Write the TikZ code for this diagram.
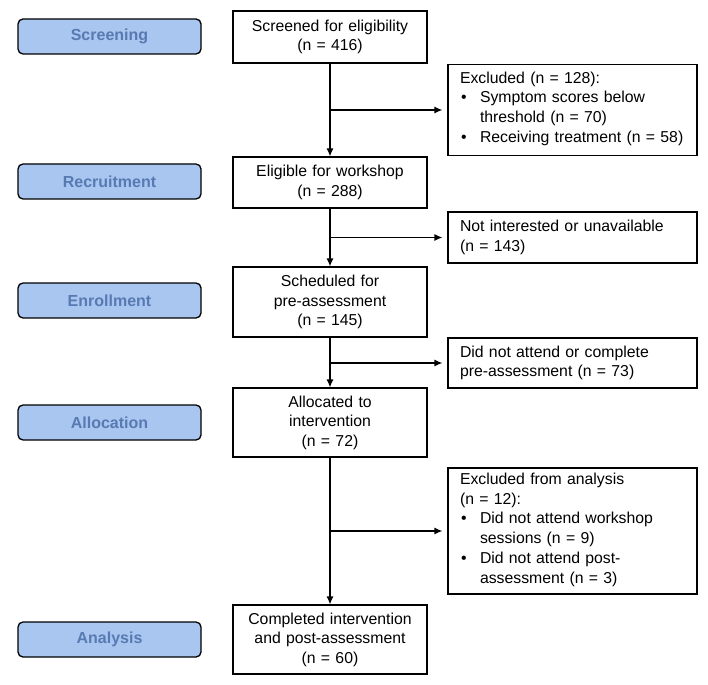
\documentclass[tikz,border=0pt]{standalone}
\usepackage{fontspec}
\setmainfont{Liberation Sans}
\usetikzlibrary{arrows.meta}
\definecolor{stagefill}{RGB}{169,198,240}
\definecolor{stagetext}{RGB}{88,122,178}
\newcommand{\bul}[1]{\makebox[20pt][l]{\hspace{1pt}\textbullet}\begin{tabular}[t]{@{}l@{}}#1\end{tabular}}
\tikzset{
  stage/.style={draw, line width=1.3pt, rounded corners=5pt, fill=stagefill,
    minimum width=183, minimum height=35, text=stagetext,
    font=\fontsize{16}{19}\selectfont\bfseries},
  mainbox/.style={draw, line width=1.2pt, minimum width=194, text width=185,
    align=center, font=\fontsize{15.8}{19.5}\selectfont},
  sidebox/.style={draw, line width=1.2pt, minimum width=249, inner xsep=12pt,
    text width=225, align=left, font=\fontsize{15.8}{19.5}\selectfont},
  flow/.style={line width=1.2pt, -{Latex[length=8pt,width=7pt]}},
}
\begin{document}
\begin{tikzpicture}[x=1pt,y=-1pt]
   \useasboundingbox (0,0) rectangle (708,684);
   % stages
   \node[stage] (sscreen) at (109.5,36.5) {Screening};
   \node[stage] (srecruit) at (109.5,181.5) {Recruitment};
   \node[stage] (senroll) at (109.5,300.5) {Enrollment};
   \node[stage] (salloc) at (109.5,422.5) {Allocation};
   \node[stage] (sanalysis) at (109.5,639.5) {Analysis};
   % main flow
   \node[mainbox, minimum height=52] (screened) at (330,37) {Screened for eligibility\\(n = 416)};
   \node[mainbox, minimum height=51] (eligible) at (330,182.5) {Eligible for workshop\\(n = 288)};
   \node[mainbox, minimum height=70] (scheduled) at (330,302) {Scheduled for\\pre-assessment\\(n = 145)};
   \node[mainbox, minimum height=69] (allocated) at (330,422.5) {Allocated to\\intervention\\(n = 72)};
   \node[mainbox, minimum height=69] (completed) at (330,639.5) {Completed intervention\\and post-assessment\\(n = 60)};
   % exclusions
   \node[sidebox, minimum height=91] (excl) at (572.5,110) {Excluded (n = 128):\\
     \bul{Symptom scores below\\threshold (n = 70)}\\
     \bul{Receiving treatment (n = 58)}};
   \node[sidebox, minimum height=51] (notint) at (572.5,237.5) {Not interested or unavailable\\(n = 143)};
   \node[sidebox, minimum height=50] (noattend) at (572.5,363) {Did not attend or complete\\pre-assessment (n = 73)};
   \node[sidebox, minimum height=126] (exclan) at (572.5,531) {Excluded from analysis\\(n = 12):\\
     \bul{Did not attend workshop\\sessions (n = 9)}\\
     \bul{Did not attend post-\\assessment (n = 3)}};
   % arrows
   \draw[flow] (screened) -- (eligible);
   \draw[flow] (eligible) -- (scheduled);
   \draw[flow] (scheduled) -- (allocated);
   \draw[flow] (allocated) -- (completed);
   \draw[flow, shorten >=5pt] (screened.south |- excl.west) -- (excl.west);
   \draw[flow, shorten >=5pt] (eligible.south |- notint.west) -- (notint.west);
   \draw[flow, shorten >=5pt] (scheduled.south |- noattend.west) -- (noattend.west);
   \draw[flow, shorten >=5pt] (allocated.south |- exclan.west) -- (exclan.west);
\end{tikzpicture}
\end{document}
